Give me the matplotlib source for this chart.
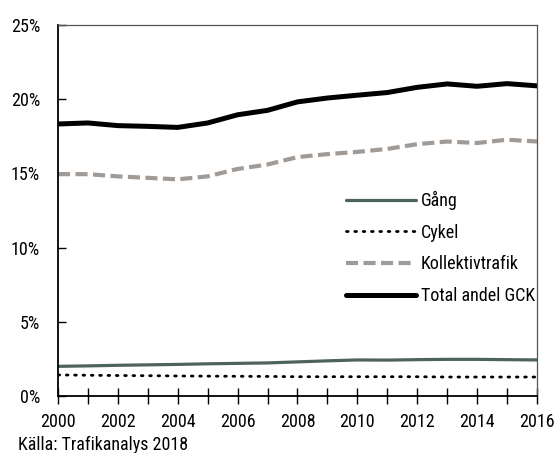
import matplotlib
matplotlib.use("Agg")
import matplotlib.pyplot as plt
from matplotlib.ticker import MultipleLocator, FuncFormatter

years = list(range(2000, 2017))
gang = [2.0, 2.03, 2.07, 2.1, 2.13, 2.17, 2.2, 2.23, 2.3, 2.37, 2.43, 2.42, 2.45, 2.47, 2.47, 2.45, 2.43]
cykel = [1.42, 1.4, 1.38, 1.37, 1.35, 1.34, 1.33, 1.32, 1.3, 1.3, 1.3, 1.3, 1.3, 1.28, 1.28, 1.28, 1.28]
kollektiv = [14.95, 14.95, 14.8, 14.7, 14.6, 14.8, 15.3, 15.6, 16.1, 16.3, 16.45, 16.65, 16.97, 17.15, 17.05, 17.27, 17.15]
total = [18.33, 18.4, 18.22, 18.17, 18.1, 18.4, 18.95, 19.25, 19.82, 20.08, 20.27, 20.45, 20.8, 21.03, 20.87, 21.05, 20.9]
labels = ["Gång", "Cykel", "Kollektivtrafik", "Total andel GCK"]
source = "Källa: Trafikanalys 2018"

plt.rcParams['font.family'] = ['Roboto Condensed', 'Archivo Narrow', 'DejaVu Sans']
FS = 13

fig = plt.figure(figsize=(5.55, 4.53), dpi=100)
ax = fig.add_axes([0.1045, 0.1258, 0.863, 0.819])

ax.plot(years, gang, color="#4f635e", lw=2.3, label=labels[0], solid_capstyle="round")
ax.plot(years, cykel, color="black", lw=2.0, linestyle=(0, (0.6, 2.4)), dash_capstyle="round", label=labels[1])
ax.plot(years, kollektiv, color="#a19b97", lw=3.0, linestyle=(0, (2.9, 1.3)), label=labels[2])
ax.plot(years, total, color="black", lw=3.6, label=labels[3], solid_capstyle="round")

ax.set_xlim(2000, 2016)
ax.set_ylim(0, 25)
ax.xaxis.set_major_locator(MultipleLocator(2))
ax.xaxis.set_minor_locator(MultipleLocator(1))
ax.yaxis.set_major_locator(MultipleLocator(5))
ax.yaxis.set_major_formatter(FuncFormatter(lambda v, p: f"{int(v)}%"))

ax.tick_params(axis="x", which="both", direction="inout", length=11, width=1, labelsize=FS, pad=7)
ax.tick_params(axis="y", which="both", direction="in", length=6, width=1, labelsize=FS, pad=13)
for s in ["left", "bottom"]:
    ax.spines[s].set_color("black")
    ax.spines[s].set_linewidth(1.3)
for s in ["top", "right"]:
    ax.spines[s].set_color("#555555")
    ax.spines[s].set_linewidth(0.9)

leg = ax.legend(loc="upper left", bbox_to_anchor=(0.567, 0.597), frameon=False,
                handlelength=3.9, handletextpad=0.25, labelspacing=0.76, fontsize=FS)

fig.text(0.032, 0.0066, source, fontsize=FS, ha="left", va="baseline")

fig.savefig("out.png", dpi=100)
